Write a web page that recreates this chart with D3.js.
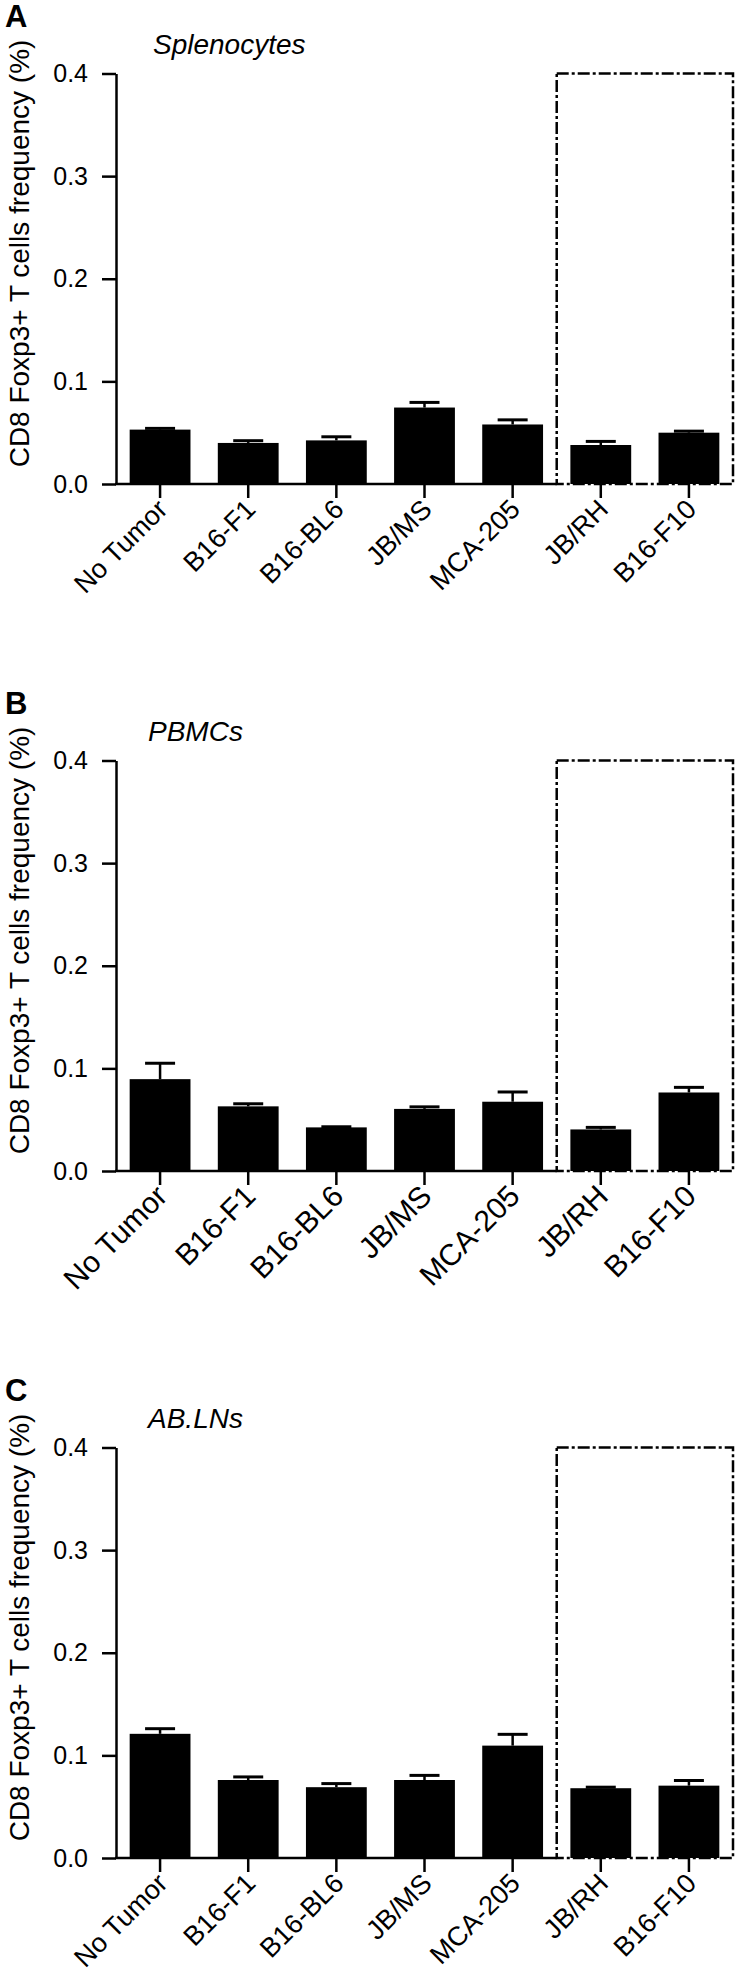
<!DOCTYPE html>
<html>
<head>
<meta charset="utf-8">
<script src="https://cdn.jsdelivr.net/npm/d3@7"></script>
<style>
  html, body { margin: 0; padding: 0; background: #fff; }
  svg { display: block; font-family: "Liberation Sans", Arial, Helvetica, sans-serif; }
</style>
</head>
<body>
<div id="chart"></div>
<script>
// tumour lines on the x axis
const categories = ['No Tumor', 'B16-F1', 'B16-BL6', 'JB/MS', 'MCA-205', 'JB/RH', 'B16-F10'];

// mean frequency (%) and upper SEM for each tissue
const splenocytesMean = [0.053, 0.040, 0.0425, 0.0745, 0.058, 0.038, 0.050];
const splenocytesErr = [0.0012, 0.0022, 0.0035, 0.005, 0.0045, 0.0035, 0.0015];

const pbmcMean = [0.0895, 0.063, 0.0425, 0.0605, 0.0675, 0.0405, 0.0765];
const pbmcErr = [0.0155, 0.0025, 0.0006, 0.002, 0.0095, 0.002, 0.005];

const abLnMean = [0.121, 0.076, 0.069, 0.076, 0.1095, 0.068, 0.0705];
const abLnErr = [0.005, 0.003, 0.0035, 0.0045, 0.011, 0.001, 0.005];

const yTicks = [0, 0.1, 0.2, 0.3, 0.4];
const panelLetters = ['A', 'B', 'C'];
const panelTitles = ['Splenocytes', 'PBMCs', 'AB.LNs'];
const boxedFrom = 'JB/RH';

const width = 735;
const height = 1980;
const yLabel = 'CD8 Foxp3+ T cells frequency (%)';

const panels = [
  { letter: panelLetters[0], title: panelTitles[0], mean: splenocytesMean, err: splenocytesErr, base: 484, titleX: 153, labelSize: 27 },
  { letter: panelLetters[1], title: panelTitles[1], mean: pbmcMean, err: pbmcErr, base: 1171, titleX: 148, labelSize: 30 },
  { letter: panelLetters[2], title: panelTitles[2], mean: abLnMean, err: abLnErr, base: 1858, titleX: 148, labelSize: 27 }
];

const svg = d3.select('#chart')
  .append('svg')
  .attr('width', width)
  .attr('height', height);

const x = d3.scaleBand()
  .domain(categories)
  .range([116, 733])
  .paddingInner(0.31)
  .paddingOuter(0.155);

// dashed box starts half way between MCA-205 and JB/RH
const boxIdx = categories.indexOf(boxedFrom);
const boxLeft = (x(categories[boxIdx - 1]) + x(categories[boxIdx]) + x.bandwidth()) / 2;
const boxRight = x.range()[1];

panels.forEach(p => {
  const y = d3.scaleLinear()
    .domain([0, 0.4])
    .range([p.base, p.base - 410.5]);

  const g = svg.append('g');

  // y axis
  const yAxis = g.append('g')
    .attr('transform', `translate(${x.range()[0]},0)`)
    .call(d3.axisLeft(y)
      .tickValues(yTicks)
      .tickSize(14)
      .tickSizeOuter(0)
      .tickPadding(14)
      .tickFormat(d3.format('.1f')));
  yAxis.selectAll('path, line').attr('stroke', '#000').attr('stroke-width', 2.5);
  yAxis.selectAll('text').attr('font-size', 25).attr('fill', '#000')
    .attr('font-family', '"Liberation Sans", Arial, sans-serif');

  // x axis ticks and labels
  const xAxis = g.append('g')
    .attr('transform', `translate(0,${y(0)})`)
    .call(d3.axisBottom(x).tickSize(14).tickSizeOuter(0).tickFormat(''));
  xAxis.select('.domain').remove();
  xAxis.selectAll('line').attr('stroke', '#000').attr('stroke-width', 2.5);

  g.append('line')
    .attr('x1', x.range()[0] - 1)
    .attr('x2', boxLeft)
    .attr('y1', y(0))
    .attr('y2', y(0))
    .attr('stroke', '#000')
    .attr('stroke-width', 2.5);

  g.selectAll('.xlabel')
    .data(categories)
    .enter().append('text')
    .attr('class', 'xlabel')
    .attr('text-anchor', 'end')
    .attr('font-size', p.labelSize)
    .attr('transform', d => `translate(${x(d) + x.bandwidth() / 2 + 9},${y(0) + 27}) rotate(-45)`)
    .text(d => d);

  // bars
  g.selectAll('.bar')
    .data(categories)
    .enter().append('rect')
    .attr('class', 'bar')
    .attr('x', d => x(d))
    .attr('width', x.bandwidth())
    .attr('y', (d, i) => y(p.mean[i]))
    .attr('height', (d, i) => y(0) - y(p.mean[i]))
    .attr('fill', '#000');

  // upper error bars
  const eb = g.selectAll('.err')
    .data(categories)
    .enter().append('g')
    .attr('class', 'err');

  eb.append('line')
    .attr('x1', d => x(d) + x.bandwidth() / 2)
    .attr('x2', d => x(d) + x.bandwidth() / 2)
    .attr('y1', (d, i) => y(p.mean[i]))
    .attr('y2', (d, i) => y(p.mean[i] + p.err[i]))
    .attr('stroke', '#000')
    .attr('stroke-width', 2.5);

  eb.append('line')
    .attr('x1', d => x(d) + x.bandwidth() / 2 - 15)
    .attr('x2', d => x(d) + x.bandwidth() / 2 + 15)
    .attr('y1', (d, i) => y(p.mean[i] + p.err[i]))
    .attr('y2', (d, i) => y(p.mean[i] + p.err[i]))
    .attr('stroke', '#000')
    .attr('stroke-width', 3);

  // dash-dot box round the last two groups
  g.append('rect')
    .attr('x', boxLeft)
    .attr('y', y(0.4))
    .attr('width', boxRight - boxLeft)
    .attr('height', y(0) - y(0.4))
    .attr('fill', 'none')
    .attr('stroke', '#000')
    .attr('stroke-width', 2.5)
    .attr('stroke-dasharray', '12,3,3,3');

  // panel letter, tissue title, y label
  g.append('text')
    .attr('x', 5)
    .attr('y', y(0.4) - 47)
    .attr('font-size', 31)
    .attr('font-weight', 'bold')
    .text(p.letter);

  g.append('text')
    .attr('x', p.titleX)
    .attr('y', y(0.4) - 20)
    .attr('font-size', 28)
    .attr('font-style', 'italic')
    .text(p.title);

  g.append('text')
    .attr('transform', `translate(29,${y(0.4) + 180}) rotate(-90)`)
    .attr('text-anchor', 'middle')
    .attr('font-size', 28)
    .text(yLabel);
});
</script>
</body>
</html>
